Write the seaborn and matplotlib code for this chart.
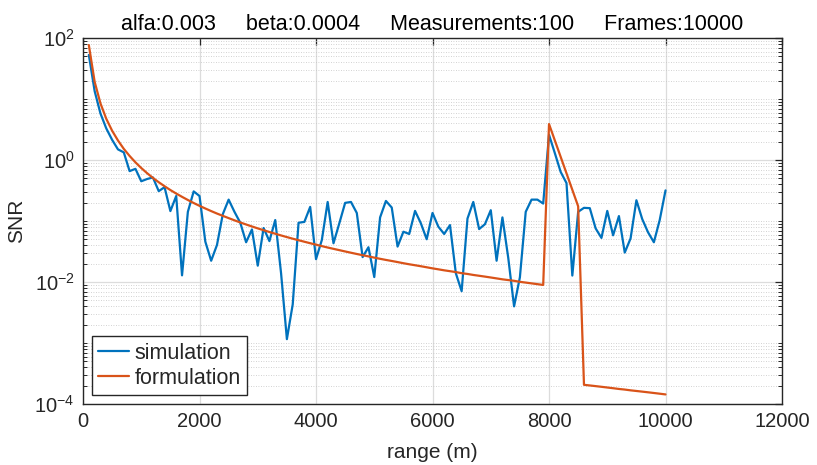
import numpy as np
import pandas as pd
import matplotlib
matplotlib.use("Agg")
import matplotlib.pyplot as plt
from matplotlib.ticker import LogLocator, NullFormatter, FixedLocator
from matplotlib.lines import Line2D
import seaborn as sns

# range samples (m)
range_m = list(range(100, 10001, 100))

# simulated SNR, one value per range sample
snr_simulation = [
    53, 13.5, 5.8, 3.3, 2.15, 1.5, 1.34, 0.66, 0.72, 0.45,
    0.49, 0.52, 0.31, 0.36, 0.146, 0.258, 0.0129, 0.142, 0.307, 0.258,
    0.046, 0.0224, 0.0407, 0.13, 0.225, 0.142, 0.094, 0.045, 0.073, 0.0186,
    0.077, 0.047, 0.104, 0.014, 0.00116, 0.0043, 0.094, 0.097, 0.171, 0.0238,
    0.049, 0.206, 0.0433, 0.092, 0.199, 0.206, 0.136, 0.0257, 0.0373, 0.0121,
    0.115, 0.214, 0.167, 0.0382, 0.067, 0.0615, 0.147, 0.092, 0.0504, 0.136,
    0.081, 0.0615, 0.086, 0.014, 0.0071, 0.110, 0.206, 0.074, 0.089, 0.151,
    0.0224, 0.115, 0.025, 0.0040, 0.012, 0.142, 0.225, 0.225, 0.194, 2.6,
    1.3, 0.64, 0.42, 0.0128, 0.142, 0.165, 0.163, 0.076, 0.053, 0.147,
    0.0585, 0.121, 0.0305, 0.052, 0.22, 0.108, 0.0655, 0.045, 0.104, 0.319,
]

# analytical SNR, one value per range sample
snr_formulation = [
    77, 19.2, 8.49, 4.75, 3.03, 2.10, 1.53, 1.17, 0.920, 0.742,
    0.611, 0.511, 0.434, 0.373, 0.323, 0.283, 0.250, 0.222, 0.198, 0.178,
    0.161, 0.146, 0.133, 0.122, 0.112, 0.103, 0.0950, 0.0880, 0.0817, 0.0760,
    0.0709, 0.0663, 0.0621, 0.0582, 0.0547, 0.0515, 0.0486, 0.0459, 0.0434, 0.0411,
    0.0389, 0.0369, 0.0351, 0.0334, 0.0318, 0.0303, 0.0289, 0.0276, 0.0264, 0.0252,
    0.0241, 0.0231, 0.0222, 0.0213, 0.0204, 0.0196, 0.0189, 0.0182, 0.0175, 0.0168,
    0.0162, 0.0156, 0.0151, 0.0146, 0.0140, 0.0136, 0.0131, 0.0127, 0.0123, 0.0119,
    0.0115, 0.0111, 0.0108, 0.0105, 0.0101, 0.00982, 0.00953, 0.00925, 0.00898, 3.9,
    2.10, 1.13, 0.607, 0.326, 0.175, 2.07e-4, 2.02e-4, 1.97e-4, 1.92e-4, 1.87e-4,
    1.82e-4, 1.77e-4, 1.73e-4, 1.68e-4, 1.64e-4, 1.60e-4, 1.56e-4, 1.52e-4, 1.48e-4, 1.44e-4,
]

series_names = ["simulation", "formulation"]
series_colors = ["#0072BD", "#D95319"]

x_ticks = [0, 2000, 4000, 6000, 8000, 10000, 12000]
y_ticks = [1e-4, 1e-2, 1e0, 1e2]

title_text = "alfa:0.003     beta:0.0004     Measurements:100     Frames:10000"

df = pd.DataFrame({
    "range": range_m * 2,
    "SNR": snr_simulation + snr_formulation,
    "series": [series_names[0]] * len(range_m) + [series_names[1]] * len(range_m),
})

sns.set_style("white")
plt.rcParams["font.family"] = ["Liberation Sans", "DejaVu Sans"]
plt.rcParams["mathtext.fontset"] = "custom"
plt.rcParams["mathtext.rm"] = "Liberation Sans"
plt.rcParams["mathtext.it"] = "Liberation Sans:italic"

fig = plt.figure(figsize=(8.17, 4.65), dpi=100)
ax = fig.add_axes([0.1016, 0.131, 0.8556, 0.787])

palette = dict(zip(series_names, series_colors))
sns.lineplot(data=df, x="range", y="SNR", hue="series", hue_order=series_names,
             palette=palette, estimator=None, sort=False, linewidth=1.6,
             legend=False, ax=ax)

ax.set_yscale("log")
ax.set_xlim(0, 12000)
ax.set_ylim(1e-4, 1e2)
ax.xaxis.set_major_locator(FixedLocator(x_ticks))
ax.yaxis.set_major_locator(FixedLocator(y_ticks))
ax.yaxis.set_minor_locator(LogLocator(base=10, subs=np.arange(1, 10), numticks=100))
ax.yaxis.set_minor_formatter(NullFormatter())
ax.set_yticklabels([r"$10^{-4}$", r"$10^{-2}$", r"$10^{0}$", r"$10^{2}$"])

ax.grid(True, which="major", color="#dcdcdc", linewidth=0.9)
ax.grid(True, which="minor", axis="y", color="#c4c4c4", linestyle=(0, (1, 2.0)), linewidth=0.6)
ax.set_axisbelow(True)

for s in ax.spines.values():
    s.set_color("#262626")
    s.set_linewidth(1.0)
ax.tick_params(which="major", direction="in", top=True, right=True, length=5,
               width=0.9, color="#262626", labelsize=14.5, labelcolor="#262626", pad=6)
ax.tick_params(which="minor", direction="in", left=True, right=True, length=3,
               width=0.7, color="#262626")

ax.set_xlabel("range (m)", fontsize=15, color="#262626", labelpad=8)
ax.set_ylabel("SNR", fontsize=15, color="#262626", labelpad=6)
ax.set_title(title_text, fontsize=15.5, color="#000000", pad=6)

handles = [Line2D([0], [0], color=c, lw=1.6) for c in series_colors]
leg = ax.legend(handles, series_names, loc="lower left", fontsize=15.5,
                frameon=True, fancybox=False, framealpha=1, edgecolor="#262626",
                handlelength=1.45, handletextpad=0.25, borderpad=0.3,
                labelspacing=0.2, borderaxespad=0.4)
leg.get_frame().set_linewidth(1.0)

fig.savefig("out.png", dpi=100, facecolor="white")
